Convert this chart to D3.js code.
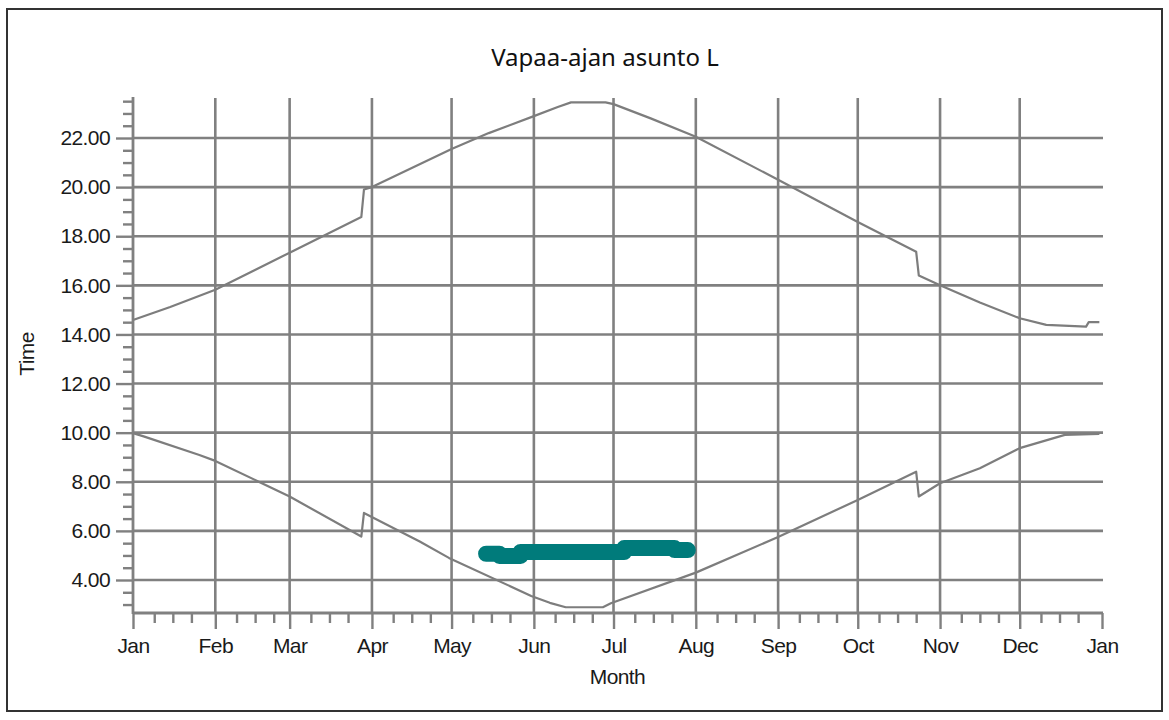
<!DOCTYPE html>
<html>
<head>
<meta charset="utf-8">
<script src="https://cdn.jsdelivr.net/npm/d3@7"></script>
<style>
  body { margin: 0; background: #fff; }
  svg { display: block; }
  .tick-label { font-family: "Liberation Sans", Arial, sans-serif; font-size: 21px; fill: #1a1a1a; letter-spacing: -0.6px; }
</style>
</head>
<body>
<svg id="chart"></svg>
<script>
const title = "Vapaa-ajan asunto L";
const xTitle = "Month";
const yTitle = "Time";

// upper curve (evening)
const eveningDates = ["2021-01-01", "2021-01-15", "2021-02-01", "2021-03-01", "2021-03-28", "2021-03-29",
  "2021-04-01", "2021-05-01", "2021-05-15", "2021-06-01", "2021-06-10", "2021-06-15", "2021-06-28",
  "2021-07-01", "2021-07-15", "2021-08-01", "2021-09-01", "2021-10-01", "2021-10-23", "2021-10-24",
  "2021-11-01", "2021-11-16", "2021-12-01", "2021-12-11", "2021-12-26", "2021-12-27", "2021-12-31"];
const eveningValues = [14.59, 15.12, 15.82, 17.33, 18.78, 19.9,
  20.0, 21.55, 22.2, 22.89, 23.26, 23.45, 23.45,
  23.38, 22.8, 22.05, 20.3, 18.58, 17.37, 16.4,
  16.0, 15.3, 14.66, 14.39, 14.32, 14.5, 14.5];

// lower curve (morning)
const morningDates = ["2021-01-01", "2021-01-05", "2021-01-26", "2021-02-01", "2021-03-01", "2021-03-28",
  "2021-03-29", "2021-04-19", "2021-04-30", "2021-05-31", "2021-06-07", "2021-06-13", "2021-06-27",
  "2021-06-30", "2021-08-01", "2021-09-01", "2021-10-01", "2021-10-23", "2021-10-24", "2021-11-01",
  "2021-11-16", "2021-12-01", "2021-12-18", "2021-12-31"];
const morningValues = [9.98, 9.85, 9.09, 8.85, 7.4, 5.77,
  6.73, 5.57, 4.9, 3.35, 3.07, 2.89, 2.89,
  3.05, 4.3, 5.75, 7.26, 8.41, 7.4, 7.94,
  8.55, 9.37, 9.91, 9.95];

// teal band
const stayDates = ["2021-05-14", "2021-05-19", "2021-05-27", "2021-07-05", "2021-07-24", "2021-07-29"];
const stayValues = [5.07, 4.98, 5.14, 5.3, 5.22, 5.22];

const yTicks = [4, 6, 8, 10, 12, 14, 16, 18, 20, 22];
const monthNames = ["Jan", "Feb", "Mar", "Apr", "May", "Jun", "Jul", "Aug", "Sep", "Oct", "Nov", "Dec", "Jan"];

const width = 1169, height = 720;
const plotLeft = 133, plotRight = 1102, plotTop = 97, plotBottom = 613;
const gridColor = "#808080";

const svg = d3.select("#chart")
  .attr("width", width)
  .attr("height", height);

svg.append("rect")
  .attr("x", 7).attr("y", 9)
  .attr("width", 1155).attr("height", 702)
  .attr("fill", "none")
  .attr("stroke", "#333")
  .attr("stroke-width", 2);

svg.append("text")
  .attr("x", 605).attr("y", 66)
  .attr("text-anchor", "middle")
  .style("font-family", "'Noto Sans', sans-serif")
  .style("font-size", "24px")
  .style("fill", "#111")
  .text(title);

const parse = d3.timeParse("%Y-%m-%d");
const x = d3.scaleTime()
  .domain([parse("2021-01-01"), parse("2022-01-01")])
  .range([plotLeft, plotRight]);
const y = d3.scaleLinear()
  .domain([2.656, 23.67])
  .range([plotBottom, plotTop]);

const months = d3.timeMonth.range(parse("2021-01-01"), parse("2022-01-02"));
const minorDays = [];
months.slice(0, 12).forEach(m => {
  [9, 16, 23].forEach(d => minorDays.push(new Date(m.getFullYear(), m.getMonth(), d)));
});
const minorHours = d3.range(3, 23.6, 0.5).filter(v => v % 2 !== 0);

const g = svg.append("g");

// grid
g.selectAll("line.hgrid")
  .data(yTicks)
  .join("line")
  .attr("class", "hgrid")
  .attr("x1", plotLeft).attr("x2", plotRight + 1)
  .attr("y1", d => y(d)).attr("y2", d => y(d))
  .attr("stroke", gridColor).attr("stroke-width", 2.6);

g.selectAll("line.vgrid")
  .data(months.slice(1, 12))
  .join("line")
  .attr("class", "vgrid")
  .attr("x1", d => x(d)).attr("x2", d => x(d))
  .attr("y1", plotTop + 1).attr("y2", plotBottom)
  .attr("stroke", gridColor).attr("stroke-width", 2.6);

// axes
const yAxis = g.append("g")
  .attr("transform", `translate(${plotLeft},0)`)
  .call(d3.axisLeft(y).tickValues(yTicks).tickSize(17).tickPadding(6).tickFormat(d3.format(".2f")));
const yMinor = g.append("g")
  .attr("transform", `translate(${plotLeft},0)`)
  .call(d3.axisLeft(y).tickValues(minorHours).tickSize(10).tickFormat(""));

const xAxis = g.append("g")
  .attr("transform", `translate(0,${plotBottom})`)
  .call(d3.axisBottom(x).tickValues(months).tickSize(16).tickPadding(9)
    .tickFormat((d, i) => monthNames[i]));
const xMinor = g.append("g")
  .attr("transform", `translate(0,${plotBottom})`)
  .call(d3.axisBottom(x).tickValues(minorDays).tickSize(10).tickFormat(""));

[yAxis, yMinor, xAxis, xMinor].forEach(a => {
  a.select(".domain").remove();
  a.selectAll(".tick line").attr("stroke", gridColor).attr("stroke-width", 2.4);
  a.selectAll(".tick text").attr("class", "tick-label").attr("fill", null);
});

g.append("line")
  .attr("x1", plotLeft).attr("x2", plotLeft)
  .attr("y1", plotTop).attr("y2", plotBottom + 1)
  .attr("stroke", gridColor).attr("stroke-width", 2.8);
g.append("line")
  .attr("x1", plotLeft).attr("x2", plotRight + 1)
  .attr("y1", plotBottom).attr("y2", plotBottom)
  .attr("stroke", gridColor).attr("stroke-width", 2.8);

// curves
const line = d3.line()
  .x(d => x(d.date))
  .y(d => y(d.value));

const evening = eveningDates.map((d, i) => ({ date: parse(d), value: eveningValues[i] }));
const morning = morningDates.map((d, i) => ({ date: parse(d), value: morningValues[i] }));
const stay = stayDates.map((d, i) => ({ date: parse(d), value: stayValues[i] }));

g.append("path")
  .datum(evening)
  .attr("d", line)
  .attr("fill", "none")
  .attr("stroke", "#7d7d7d")
  .attr("stroke-width", 2.2)
  .attr("stroke-linejoin", "round");

g.append("path")
  .datum(morning)
  .attr("d", line)
  .attr("fill", "none")
  .attr("stroke", "#7d7d7d")
  .attr("stroke-width", 2.2)
  .attr("stroke-linejoin", "round");

g.append("path")
  .datum(stay)
  .attr("d", line.curve(d3.curveStepAfter))
  .attr("fill", "none")
  .attr("stroke", "#007b7b")
  .attr("stroke-width", 16)
  .attr("stroke-linecap", "round")
  .attr("stroke-linejoin", "round");

// axis titles
svg.append("text")
  .attr("class", "tick-label")
  .attr("x", (plotLeft + plotRight) / 2)
  .attr("y", 684)
  .attr("text-anchor", "middle")
  .text(xTitle);

svg.append("text")
  .attr("class", "tick-label")
  .attr("transform", "translate(34,354) rotate(-90)")
  .attr("text-anchor", "middle")
  .text(yTitle);
</script>
</body>
</html>
